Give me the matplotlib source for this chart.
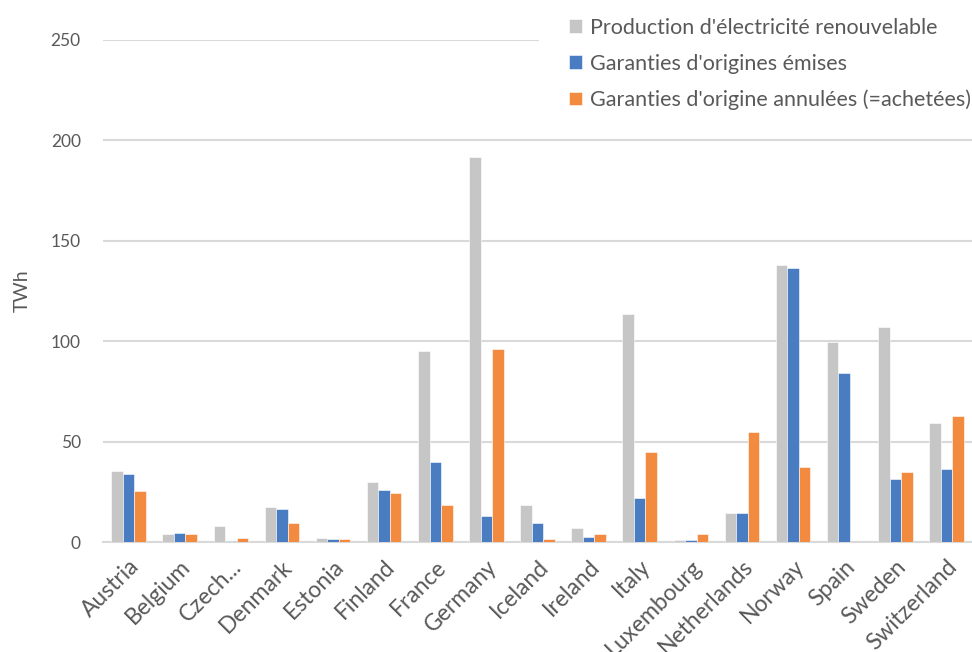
import matplotlib
matplotlib.use("Agg")
import matplotlib.pyplot as plt
from matplotlib.patches import Rectangle
import numpy as np

countries = ["Austria", "Belgium", "Czech...", "Denmark", "Estonia", "Finland",
             "France", "Germany", "Iceland", "Ireland", "Italy", "Luxembourg",
             "Netherlands", "Norway", "Spain", "Sweden", "Switzerland"]

production = [35.4, 4.0, 8.1, 17.3, 2.0, 29.9, 95.0, 191.7, 18.3, 7.1,
              113.5, 1.0, 14.4, 138.0, 99.8, 107.0, 59.4]
go_issued = [33.7, 4.5, 0.6, 16.3, 1.3, 25.7, 40.0, 13.0, 9.3, 2.3,
             21.9, 0.9, 14.4, 136.5, 84.0, 31.4, 36.2]
go_cancelled = [25.3, 4.0, 2.0, 9.3, 1.3, 24.6, 18.3, 96.0, 1.3, 4.0,
                44.7, 4.0, 54.8, 37.3, 0.0, 34.7, 62.7]

series_labels = ["Production d'électricité renouvelable",
                 "Garanties d'origines émises",
                 "Garanties d'origine annulées (=achetées)"]
colors = ["#c6c6c6", "#4a7cc1", "#f28a3f"]
text_color = "#595959"

plt.rcParams["font.family"] = ["Lato", "DejaVu Sans"]

fig = plt.figure(figsize=(9.72, 6.52), dpi=100)
ax = fig.add_axes([0.106, 0.1687, 0.894, 0.770])

x = np.arange(len(countries))
w = 0.225
for i, (vals, lab, col) in enumerate(zip([production, go_issued, go_cancelled],
                                          series_labels, colors)):
    ax.bar(x + (i - 1) * w, vals, width=w, color=col, label=lab,
           edgecolor="white", linewidth=0.4, zorder=3)

ax.set_xlim(-0.5, len(countries) - 0.5)
ax.set_ylim(0, 250)
ax.set_yticks(np.arange(0, 251, 50))
ax.yaxis.grid(True, color="#d9d9d9", linewidth=1.5, zorder=0)
ax.set_axisbelow(True)
for s in ["top", "right", "left"]:
    ax.spines[s].set_visible(False)
ax.spines["bottom"].set_color("#d9d9d9")
ax.spines["bottom"].set_linewidth(1.5)

ax.tick_params(axis="both", length=0, colors=text_color, labelsize=12.5)
ax.tick_params(axis="y", pad=16)
ax.set_xticks(x)
ax.set_xticklabels(countries, rotation=45, ha="right", rotation_mode="anchor",
                   fontsize=16.5)
ax.tick_params(axis="x", pad=10)

ax.set_ylabel("TWh", color=text_color, fontsize=14, va="center")
ax.yaxis.set_label_coords(-0.093, 0.5)

# white panel behind the legend, hiding the top gridline there
ax.add_patch(Rectangle((0.555, 0.82), 0.45, 0.2, transform=fig.transFigure,
                       facecolor="white", edgecolor="none", zorder=4,
                       clip_on=False))

leg = ax.legend(loc="upper left", bbox_to_anchor=(0.585, 0.973),
                bbox_transform=fig.transFigure, frameon=False, fontsize=15.5,
                handlelength=0.6, handleheight=0.6, handletextpad=0.4,
                labelspacing=0.74, borderpad=0, borderaxespad=0)
leg.set_zorder(5)
for t in leg.get_texts():
    t.set_color(text_color)

fig.savefig("out.png", dpi=100)
